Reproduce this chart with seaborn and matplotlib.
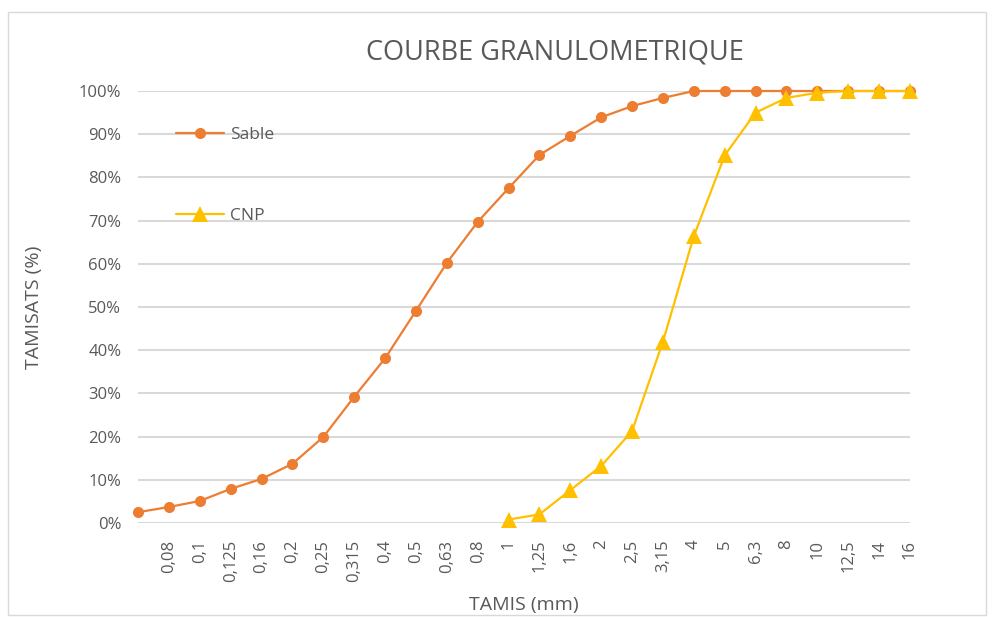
import numpy as np
import pandas as pd
import matplotlib
matplotlib.use("Agg")
import matplotlib.pyplot as plt
import seaborn as sns

# sieve sizes (first column has no label in the original sheet)
tamis = ["", "0,08", "0,1", "0,125", "0,16", "0,2", "0,25", "0,315", "0,4", "0,5",
         "0,63", "0,8", "1", "1,25", "1,6", "2", "2,5", "3,15", "4", "5",
         "6,3", "8", "10", "12,5", "14", "16"]
# passing percentages
sable = [2.5, 3.7, 5.1, 7.9, 10.2, 13.7, 19.9, 29.2, 38.1, 49.1,
         60.2, 69.7, 77.5, 85.2, 89.6, 93.9, 96.5, 98.4, 100, 100,
         100, 100, 100, 100, 100, 100]
cnp = [np.nan] * 12 + [0.8, 2.0, 7.6, 13.2, 21.3, 42.0, 66.4, 85.1,
                        95.0, 98.4, 99.6, 100, 100, 100]

df = pd.DataFrame({"pos": np.arange(len(tamis)),
                   "Sable": np.array(sable) / 100,
                   "CNP": np.array(cnp) / 100})

sns.set_style("white")
plt.rcParams["font.family"] = ["Open Sans", "DejaVu Sans"]
grey = "#595959"

fig = plt.figure(figsize=(9.94, 6.17), dpi=100)
ax = fig.add_axes([138 / 994, 1 - 523 / 617, (910 - 138) / 994, (523 - 91) / 617])

sns.lineplot(data=df, x="pos", y="Sable", ax=ax, color="#ED7D31", lw=1.6,
             marker="o", markersize=8, markeredgewidth=0, label="Sable",
             clip_on=False)
sns.lineplot(data=df.dropna(), x="pos", y="CNP", ax=ax, color="#FFC000", lw=1.6,
             marker="^", markersize=11, markeredgewidth=0, label="CNP",
             clip_on=False)

ax.set_xlim(0, len(tamis) - 1)
ax.set_ylim(0, 1)
ax.set_yticks(np.arange(0, 1.01, 0.1))
ax.set_yticklabels([f"{int(round(v * 100))}%" for v in np.arange(0, 1.01, 0.1)],
                   fontsize=12, color=grey)
ax.set_xticks(df["pos"])
ax.set_xticklabels(tamis, rotation=90, fontsize=12, color=grey)
ax.tick_params(axis="both", length=0, pad=12)
ax.grid(axis="y", color="#D9D9D9", lw=1.5)
ax.set_axisbelow(True)
for s in ax.spines.values():
    s.set_visible(False)

ax.set_xlabel("TAMIS (mm)", fontsize=14, color=grey, labelpad=10)
ax.set_ylabel("TAMISATS (%)", fontsize=14, color=grey, labelpad=26)
fig.text(555 / 994, 1 - 52 / 617, "COURBE GRANULOMETRIQUE", fontsize=19.5,
         color=grey, ha="center", va="center")

leg = ax.legend(loc="upper left", bbox_to_anchor=(0.04, 0.934), frameon=False,
                labelspacing=3.75, handlelength=2.8, handletextpad=0.3,
                fontsize=12.5, borderaxespad=0)
for t in leg.get_texts():
    t.set_color(grey)

# outer chart border
fig.patches.append(plt.Rectangle((8 / 994, 2 / 617), 978 / 994, 603 / 617,
                                 transform=fig.transFigure, fill=False,
                                 edgecolor="#D9D9D9", lw=1))

fig.savefig("out.png", dpi=100)
